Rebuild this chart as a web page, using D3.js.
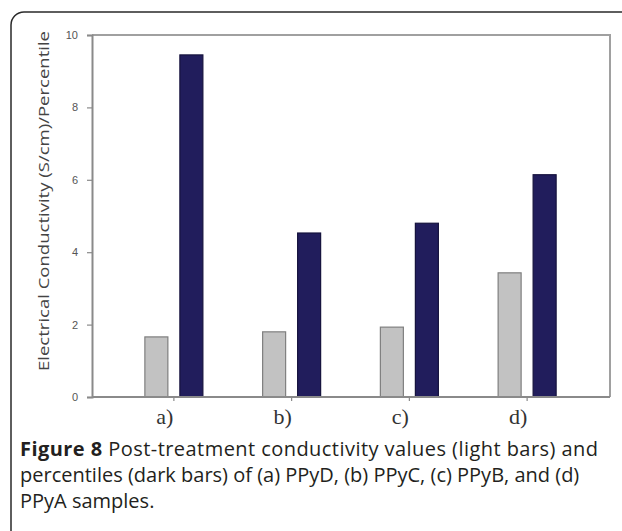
<!DOCTYPE html>
<html><head><meta charset="utf-8">
<script src="https://cdn.jsdelivr.net/npm/d3@7"></script>
<style>body{margin:0;background:#fff}svg{display:block}</style>
</head><body>
<script>
const categories = ["a)", "b)", "c)", "d)"];
const seriesNames = ["conductivity", "percentile"];
const conductivity = [1.66, 1.80, 1.93, 3.43];
const percentile = [9.45, 4.53, 4.80, 6.14];
const yTicks = [0, 2, 4, 6, 8, 10];
const yLabel = "Electrical Conductivity (S/cm)/Percentile";
const captionLines = [
  [{t:"Figure 8", b:true}, {t:" Post-treatment conductivity values (light bars) and", b:false}],
  [{t:"percentiles (dark bars) of (a) PPyD, (b) PPyC, (c) PPyB, and (d)", b:false}],
  [{t:"PPyA samples.", b:false}]
];

const W = 622, H = 531;
const svg = d3.select("body").append("svg").attr("width", W).attr("height", H);

// card border
svg.append("rect").attr("x", 11).attr("y", 12).attr("width", 640).attr("height", 560)
  .attr("rx", 13).attr("fill", "none").attr("stroke", "#2a2a2a").attr("stroke-width", 1.5);

const plot = {left: 92, right: 610, top: 35, bottom: 397};
const y = d3.scaleLinear().domain([0, 10]).range([plot.bottom, plot.top]);
const x = d3.scaleBand().domain(categories).range([115, 586]).padding(0);
const xs = d3.scaleBand().domain(seriesNames).range([-29, 29]).paddingInner(0.343).paddingOuter(0);

// plot frame top/right
svg.append("path").attr("d", `M${plot.left},${plot.top}H${plot.right}V${plot.bottom}`)
  .attr("fill", "none").attr("stroke", "#a0a0a0").attr("stroke-width", 2);

// bars
const data = categories.map((c, i) => ({c, vals: [conductivity[i], percentile[i]]}));
const fills = ["#c2c2c2", "#211d5c"], strokes = ["#7f7f7f", "#15123d"];
const g = svg.append("g");
data.forEach(d => {
  d.vals.forEach((v, j) => {
    const cx = x(d.c) + x.bandwidth() / 2;
    g.append("rect")
      .attr("x", cx + xs(seriesNames[j]))
      .attr("y", y(v))
      .attr("width", xs.bandwidth())
      .attr("height", y(0) - y(v))
      .attr("fill", fills[j]).attr("stroke", strokes[j]).attr("stroke-width", 1.2);
  });
});

// y axis
const yAxis = d3.axisLeft(y).tickValues(yTicks).tickSize(5).tickPadding(9);
const ya = svg.append("g").attr("transform", `translate(${plot.left},0)`).call(yAxis);
ya.select(".domain").attr("stroke", "#8a8a8a").attr("stroke-width", 2);
ya.selectAll(".tick line").attr("stroke", "#8a8a8a").attr("stroke-width", 1.2);
ya.selectAll(".tick text").attr("font-family", "Liberation Sans, Arial, sans-serif")
  .attr("font-size", 11).attr("fill", "#555");

// x axis
const xAxis = d3.axisBottom(x).tickSize(4).tickPadding(7);
const xa = svg.append("g").attr("transform", `translate(0,${plot.bottom})`).call(xAxis);
xa.select(".domain").remove();
svg.append("line").attr("x1", plot.left).attr("x2", plot.right)
  .attr("y1", plot.bottom).attr("y2", plot.bottom).attr("stroke", "#8a8a8a").attr("stroke-width", 2);
xa.selectAll(".tick line").attr("stroke", "#8a8a8a").attr("stroke-width", 1.2);
xa.selectAll(".tick text").attr("font-family", "Liberation Serif, Times New Roman, serif")
  .attr("font-size", 22).attr("fill", "#333").attr("dx", -9);

// y label
svg.append("text").attr("transform", `translate(49,201) rotate(-90)`)
  .attr("text-anchor", "middle").attr("font-family", "Open Sans, sans-serif")
  .attr("font-size", 14).attr("fill", "#444")
  .attr("textLength", 340).attr("lengthAdjust", "spacingAndGlyphs").text(yLabel);

// caption
const capLengths = [578, null, null];
const cap = svg.append("g").attr("font-family", "Open Sans, sans-serif").attr("font-size", 20).attr("fill", "#231f20");
captionLines.forEach((line, i) => {
  const t = cap.append("text").attr("x", 20).attr("y", 456 + i * 26);
  if (capLengths[i]) t.attr("textLength", capLengths[i]).attr("lengthAdjust", "spacing");
  line.forEach(s => t.append("tspan").attr("font-weight", s.b ? "bold" : "normal").text(s.t));
});
</script>
</body></html>
